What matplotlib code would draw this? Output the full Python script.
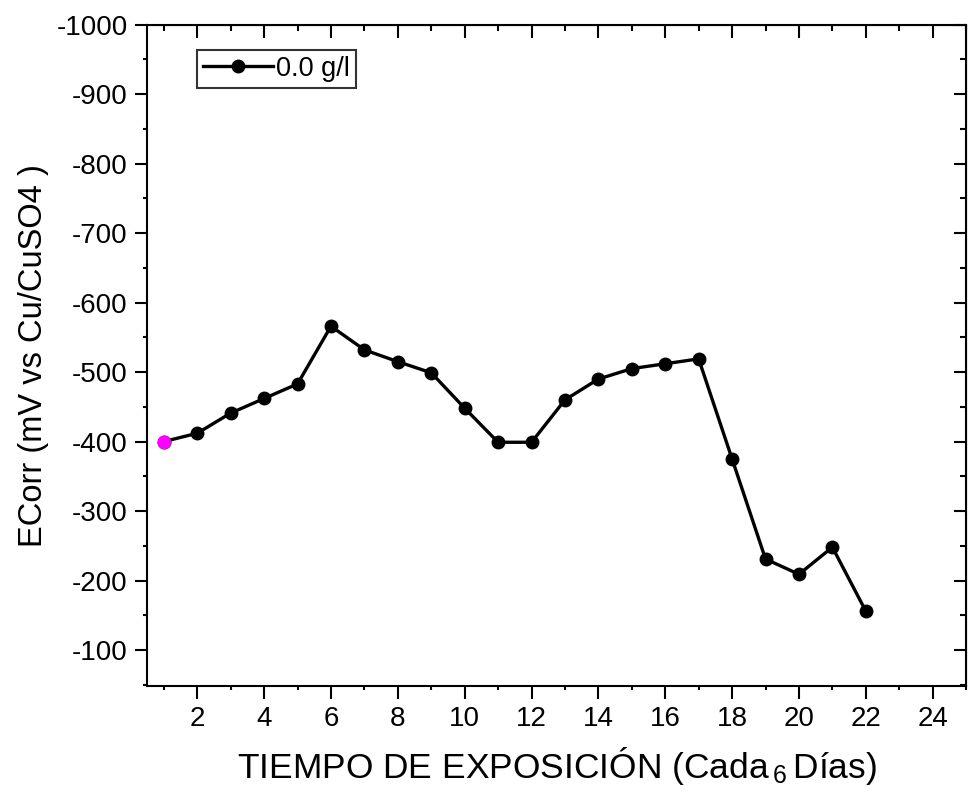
import numpy as np
import matplotlib.pyplot as plt
from matplotlib.ticker import MultipleLocator

plt.rcParams['font.family'] = ['Liberation Sans', 'DejaVu Sans']
plt.rcParams['mathtext.fontset'] = 'custom'
plt.rcParams['mathtext.rm'] = 'Liberation Sans'
plt.rcParams['mathtext.it'] = 'Liberation Sans'
plt.rcParams['axes.unicode_minus'] = False

# potencial de corrosion por periodo (cada 6 dias)
periodo = np.arange(1, 23)
ecorr = [-400, -412, -441, -462, -483, -566, -532, -515, -499, -448, -399,
         -399, -460, -490, -505, -512, -519, -375, -231, -209, -248, -156]
serie = '0.0 g/l'

fig = plt.figure(figsize=(9.68, 7.96), dpi=100)
ax = fig.add_axes([0.152, 0.138, 0.846, 0.831])

ax.plot(periodo, ecorr, '-o', color='black', lw=2.4, ms=9, label=serie)
ax.plot(periodo[0], ecorr[0], 'o', color='#ff00ff', ms=9, zorder=3)

ax.set_xlim(0.5, 25)
ax.set_ylim(-48, -1000)
ax.xaxis.set_major_locator(MultipleLocator(2))
ax.xaxis.set_minor_locator(MultipleLocator(1))
ax.yaxis.set_major_locator(MultipleLocator(100))
ax.yaxis.set_minor_locator(MultipleLocator(50))
ax.set_yticks(np.arange(-1000, -99, 100))

for s in ax.spines.values():
    s.set_linewidth(1.5)
ax.tick_params(which='both', labelsize=20, width=1.5, direction='out',
               top=False, right=False)
ax.tick_params(which='major', length=9, pad=5)
ax.tick_params(which='minor', length=3)

# ticks del lado superior y derecho hacia adentro
ax2 = ax.secondary_xaxis('top')
ax2.xaxis.set_major_locator(MultipleLocator(2))
ax2.xaxis.set_minor_locator(MultipleLocator(1))
ax3 = ax.secondary_yaxis('right')
ax3.yaxis.set_major_locator(MultipleLocator(100))
ax3.yaxis.set_minor_locator(MultipleLocator(50))
for sec in (ax2, ax3):
    sec.tick_params(which='both', direction='in', labeltop=False,
                    labelright=False, width=1.5)
    sec.tick_params(which='major', length=9)
    sec.tick_params(which='minor', length=4.5)

ax.set_xlabel(r'TIEMPO DE EXPOSICIÓN (Cada$\,_{\mathrm{6}}\,$Días)', fontsize=25.5, labelpad=10)
ax.set_ylabel('ECorr (mV vs Cu/CuSO4 )', fontsize=23.5, labelpad=5)

leg = ax.legend(loc='upper left', bbox_to_anchor=(0.061, 0.962), fontsize=19.5,
                frameon=True, fancybox=False, edgecolor='black', handlelength=2.6,
                borderpad=0.22, handletextpad=0.1, borderaxespad=0)
leg.get_frame().set_linewidth(1.5)

fig.savefig('out.png', dpi=100)
